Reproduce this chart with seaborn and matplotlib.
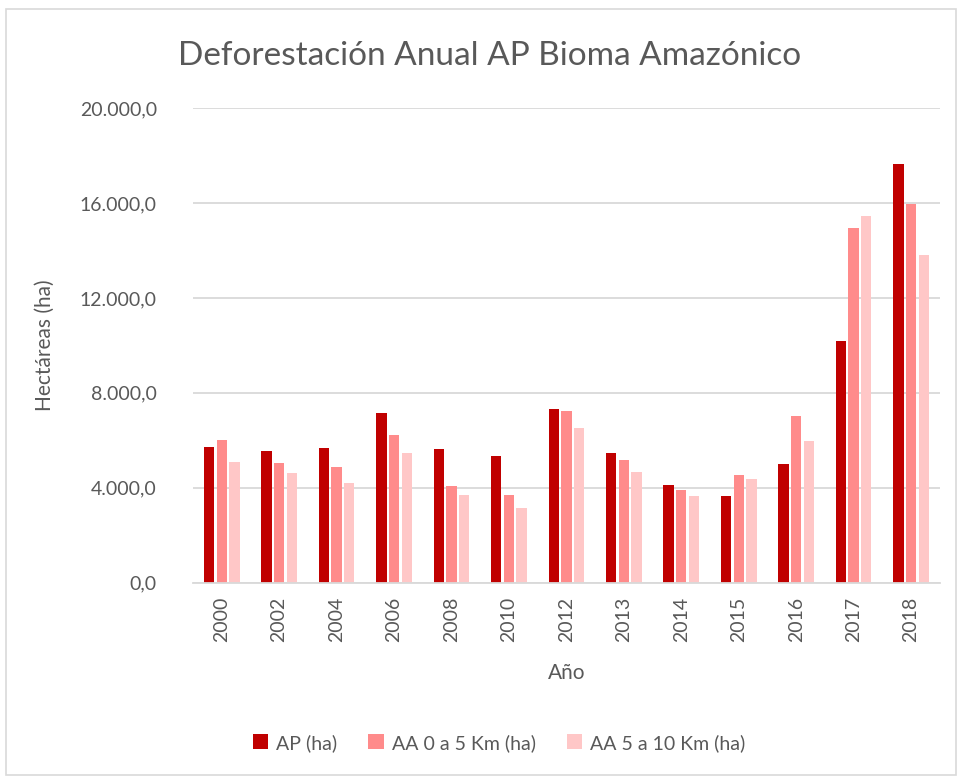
import pandas as pd
import numpy as np
import seaborn as sns
import matplotlib.pyplot as plt
from matplotlib.patches import Rectangle
from matplotlib.ticker import FuncFormatter

# Datos
anios = ['2000', '2002', '2004', '2006', '2008', '2010', '2012',
         '2013', '2014', '2015', '2016', '2017', '2018']
ap_ha = [5730, 5560, 5660, 7140, 5620, 5350, 7300,
         5450, 4120, 3670, 5000, 10180, 17650]
aa_0_5 = [6030, 5050, 4880, 6210, 4090, 3680, 7250,
          5160, 3920, 4550, 7040, 14930, 15960]
aa_5_10 = [5100, 4630, 4220, 5480, 3700, 3160, 6500,
           4660, 3640, 4380, 5990, 15450, 13820]
series = ['AP (ha)', 'AA 0 a 5 Km (ha)', 'AA 5 a 10 Km (ha)']
colores = ['#C00000', '#FF8B8B', '#FFC7C7']

# Tabla larga para seaborn
df = pd.DataFrame({
    'Año': anios * 3,
    'valor': ap_ha + aa_0_5 + aa_5_10,
    'serie': [series[0]] * 13 + [series[1]] * 13 + [series[2]] * 13,
})

sns.set_style('white')
plt.rcParams['font.family'] = ['Lato', 'DejaVu Sans']
gris = '#595959'

fig = plt.figure(figsize=(9.6, 7.77), dpi=100)
ax = fig.add_axes([0.201, 0.25, 0.778, 0.611])

sns.barplot(data=df, x='Año', y='valor', hue='serie', hue_order=series,
            palette=colores, saturation=1, width=0.66, gap=0.18, ax=ax,
            legend=True, edgecolor='none')

ax.set_ylim(0, 20000)
ax.set_yticks(np.arange(0, 20001, 4000))
ax.yaxis.set_major_formatter(FuncFormatter(
    lambda v, p: f'{v:,.1f}'.replace(',', 'X').replace('.', ',').replace('X', '.')))
ax.grid(axis='y', color='#D9D9D9', linewidth=1.3)
ax.set_axisbelow(True)
for lado in ['top', 'right', 'left']:
    ax.spines[lado].set_visible(False)
ax.spines['bottom'].set_color('#D9D9D9')
ax.spines['bottom'].set_linewidth(1.3)
ax.tick_params(axis='both', length=0, colors=gris, labelsize=14)
ax.tick_params(axis='y', pad=26)
ax.tick_params(axis='x', rotation=90, pad=10)
ax.set_xlim(-0.5, 12.5)

ax.set_ylabel('Hectáreas (ha)', color=gris, fontsize=15, labelpad=18)
ax.set_xlabel('Año', color=gris, fontsize=15, labelpad=15)
fig.text(0.51, 0.928, 'Deforestación Anual AP Bioma Amazónico',
         ha='center', va='center', fontsize=24, color=gris)

leg = ax.legend(loc='center', bbox_to_anchor=(0.41, -0.337), ncol=3,
                frameon=False, fontsize=14, handlelength=0.8, handleheight=0.8,
                handletextpad=0.4, columnspacing=1.6)
for t in leg.get_texts():
    t.set_color(gris)

fig.patches.append(Rectangle((0.006, 0.003), 0.99, 0.986, transform=fig.transFigure,
                             fill=False, edgecolor='#D9D9D9', linewidth=1.2))

fig.savefig('out.png', dpi=100)
